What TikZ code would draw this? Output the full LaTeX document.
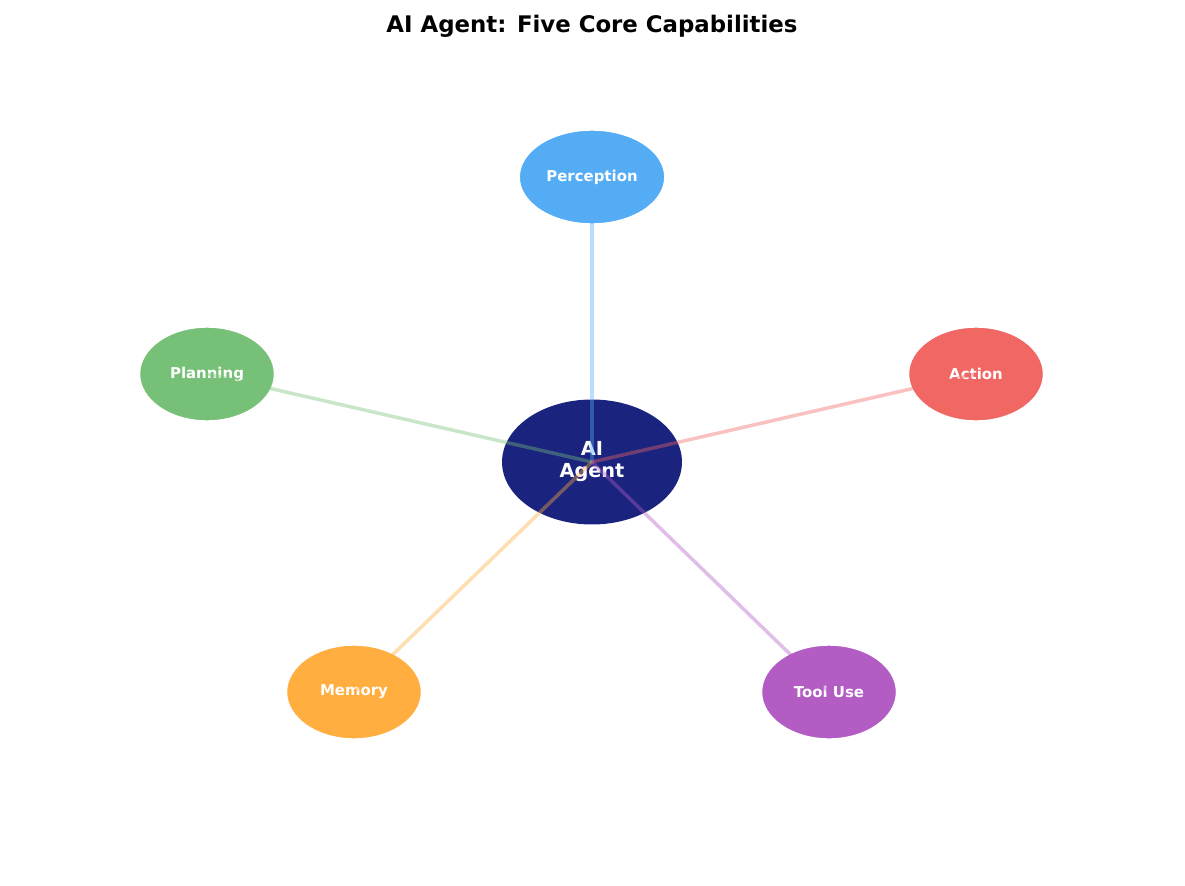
\documentclass[tikz,border=0pt]{standalone}
\usepackage{fontspec}
\setmainfont{DejaVu Sans}
\usepackage{tikz}
\usetikzlibrary{shapes.geometric}
\definecolor{agentblue}{HTML}{1A237E}
\definecolor{percol}{HTML}{54ACF5}
\definecolor{placol}{HTML}{77C077}
\definecolor{actcol}{HTML}{F16763}
\definecolor{memcol}{HTML}{FFAE3F}
\definecolor{toolcol}{HTML}{B35CC4}
\tikzset{
  capnode/.style={ellipse, draw=white, line width=0.8pt, minimum width=2.7cm, minimum height=1.88cm,
    text=white, font=\bfseries\fontsize{8.5}{10}\selectfont},
  spoke/.style={line width=2pt, opacity=0.4}
}
\begin{document}
\begin{tikzpicture}[x=0.02cm,y=-0.02cm]
  \useasboundingbox (0,0) rectangle (1185,885);
  % Title
  \node[font=\bfseries\fontsize{13}{15}\selectfont] (title) at (592,26) {AI Agent: Five Core Capabilities};

  % Centre and the five capabilities
  \node[ellipse, fill=agentblue, minimum width=3.6cm, minimum height=2.5cm, text=white, align=center,
    font=\bfseries\fontsize{11}{12.5}\selectfont] (agent) at (592,462) {AI\\Agent};
  \node[capnode, fill=percol] (perception) at (592,177) {Perception};
  \node[capnode, fill=placol] (planning) at (207,374) {Planning};
  \node[capnode, fill=actcol] (action) at (976,374) {Action};
  \node[capnode, fill=memcol] (memory) at (354,692) {Memory};
  \node[capnode, fill=toolcol] (tooluse) at (829,692) {Tool Use};

  % Spokes
  \draw[spoke, percol] (agent.center) -- (perception.center);
  \draw[spoke, placol] (agent.center) -- (planning.center);
  \draw[spoke, actcol] (agent.center) -- (action.center);
  \draw[spoke, memcol] (agent.center) -- (memory.center);
  \draw[spoke, toolcol] (agent.center) -- (tooluse.center);
\end{tikzpicture}
\end{document}
